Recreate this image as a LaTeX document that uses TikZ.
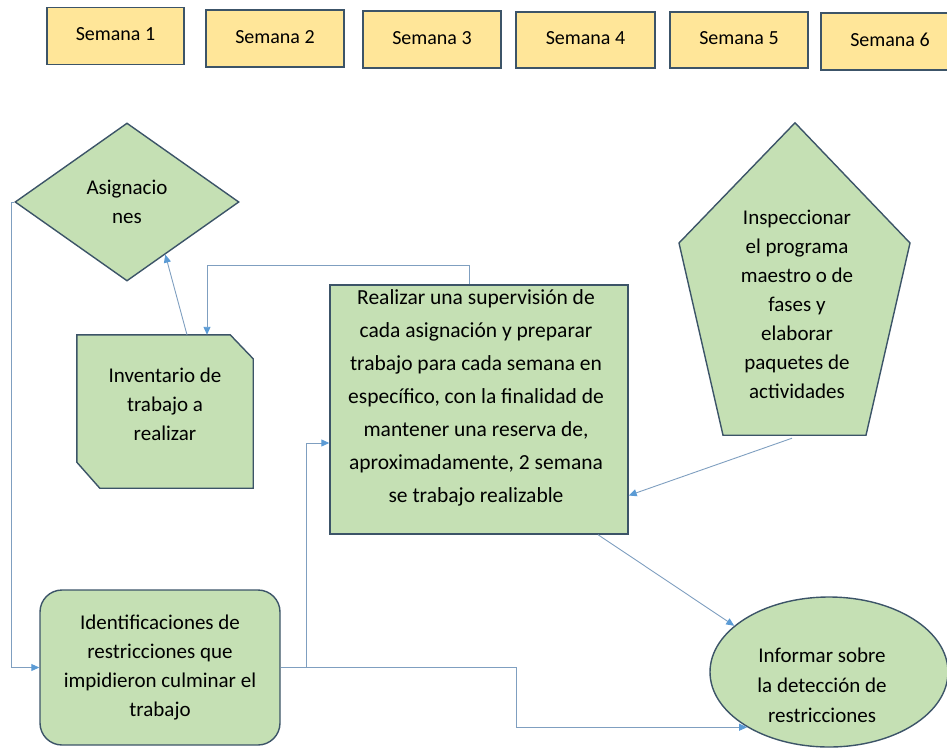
\documentclass[tikz,border=0pt]{standalone}
\usepackage{fontspec}
\setmainfont{Carlito}
\usetikzlibrary{shapes.geometric,arrows.meta,calc}
\definecolor{wk}{HTML}{FFE699}
\definecolor{gr}{HTML}{C5E0B4}
\definecolor{bd}{HTML}{3C5468}
\definecolor{ln}{HTML}{7F9FC0}
\definecolor{tipc}{HTML}{5B9BD5}
\newcommand{\wlab}[1]{\raisebox{3pt}{#1}}
\begin{document}
\begin{tikzpicture}[x=1pt,y=-1pt,
  week/.style={draw=bd, line width=1.4pt, fill=wk, inner sep=0pt, minimum height=57pt,
    font=\fontsize{20}{24}\selectfont},
  gbox/.style={draw=bd, line width=1.4pt, fill=gr, inner sep=0pt},
  ghost/.style={draw=none, fill=none, inner sep=0pt},
  txt/.style={align=center, inner sep=0pt, font=\fontsize{21}{29}\selectfont},
  conn/.style={draw=ln, line width=0.9pt, -{Triangle[length=8pt,width=7pt,color=tipc]}}
]
\useasboundingbox (0,0) rectangle (947,747);

% weeks
\node[week, minimum width=137pt] (w1) at (115.5,36) {\wlab{Semana 1}};
\node[week, minimum width=138pt] (w2) at (275,38.5) {\wlab{Semana 2}};
\node[week, minimum width=138pt] (w3) at (432,39.5) {\wlab{Semana 3}};
\node[week, minimum width=139pt, minimum height=56pt] (w4) at (585.5,40) {\wlab{Semana 4}};
\node[week, minimum width=138pt, minimum height=56pt] (w5) at (739,40) {\wlab{Semana 5}};
\node[week, minimum width=138pt] (w6) at (890,41.5) {\wlab{Semana 6}};

% diamond
\node[gbox, diamond, minimum width=224pt, minimum height=158pt, txt] (asg) at (127,202) {Asignacio\\nes};

% inventario (snipped corners)
\node[ghost, minimum width=176pt, minimum height=153pt] (inv) at (165,411.5) {};
\filldraw[draw=bd, fill=gr, line width=1.4pt, line join=miter]
  (inv.north west) -- ($(inv.north east)+(-23,0)$) -- ($(inv.north east)+(0,24)$)
  -- (inv.south east) -- ($(inv.south west)+(23,0)$) -- ($(inv.south west)+(0,-26)$) -- cycle;
\node[txt] (invt) at (165,404) {Inventario de\\trabajo a\\realizar};

% main box
\node[gbox, rectangle, minimum width=298pt, minimum height=249pt] (main) at (479,409.5) {};
\node[txt, font=\fontsize{21.5}{33}\selectfont] (maint) at (476,398)
  {Realizar una supervisión de\\cada asignación y preparar\\trabajo para cada semana en\\específico, con la finalidad de\\mantener una reserva de,\\aproximadamente, 2 semana\\se trabajo realizable};

% pentagon
\node[ghost, minimum width=231pt, minimum height=312pt] (pent) at (795,279) {};
\filldraw[draw=bd, fill=gr, line width=1.4pt, line join=miter]
  (pent.north) -- ($(pent.center)+(115,-36)$) -- ($(pent.south)+(71,0)$)
  -- ($(pent.south)+(-72,0)$) -- ($(pent.center)+(-116,-36)$) -- cycle;
\node[txt] (pentt) at (797,304) {Inspeccionar\\el programa\\maestro o de\\fases y\\elaborar\\paquetes de\\actividades};

% identification
\node[gbox, rectangle, rounded corners=22pt, minimum width=240pt, minimum height=155pt, txt] (ident) at (160,667.5)
  {Identificaciones de\\restricciones que\\impidieron culminar el\\trabajo};

% ellipse
\node[gbox, ellipse, minimum width=238pt, minimum height=150pt] (ell) at (829,672) {};
\node[txt, font=\fontsize{21}{30}\selectfont] (ellt) at (822,685) {Informar sobre\\la detección de\\restricciones};

% connectors
\draw[conn] ($(inv.north)+(22,0)$) -- ($(asg.south)!0.34!(asg.east)$);
\draw[conn] ($(main.north)+(-10,0)$) -- ++(0,-19) -| ($(inv.north)+(42,0)$);
\draw[conn] (asg.west) -- ++(-3,0) |- (ident.west);
\draw[conn] (ident.east) -- ++(26,0) |- ($(main.west)+(0,33.5)$);
\draw[conn] (ident.east) -- ++(236,0) |- (ell.214);
\draw[conn] ($(main.south)+(119,0)$) -- (ell.154);
\draw[conn] ($(pent.south)+(-3,3)$) -- ($(main.east)+(0,86)$);
\end{tikzpicture}
\end{document}
